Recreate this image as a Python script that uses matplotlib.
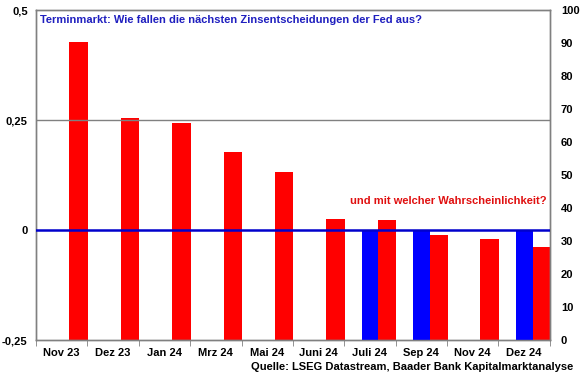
import numpy as np
import matplotlib
matplotlib.use("Agg")
import matplotlib.pyplot as plt

plt.rcParams["font.family"] = ["Liberation Sans", "DejaVu Sans"]
plt.rcParams["font.weight"] = "bold"

months = ["Nov 23", "Dez 23", "Jan 24", "Mrz 24", "Mai 24",
          "Juni 24", "Juli 24", "Sep 24", "Nov 24", "Dez 24"]
# expected rate move (left axis, percentage points)
rate_move = [0, 0, 0, 0, 0, 0, -0.25, -0.25, 0, -0.25]
# probability of that move (right axis, %)
probability = [90.3, 67.2, 65.8, 56.9, 50.8, 36.7, 36.5, 31.7, 30.5, 28.2]

x = np.arange(len(months))
w = 0.33

fig = plt.figure(figsize=(5.8, 3.75), dpi=100)
ax = fig.add_axes([0.062, 0.0933, 0.886, 0.880])
ax2 = ax.twinx()

ax.bar(x, rate_move, width=w, color="#0000ff", zorder=2)
ax2.bar(x + w, probability, width=w + 0.03, color="#ff0000", zorder=2)
ax.axhline(0, color="#0000cc", linewidth=1.8, zorder=3)
ax.axhline(0.25, color="#808080", linewidth=1.0, zorder=1)

ax.set_xlim(-0.5, len(months) - 0.5)
ax.set_ylim(-0.25, 0.5)
ax2.set_ylim(0, 100)
ax.set_yticks([-0.25, 0, 0.25, 0.5])
ax.set_yticklabels(["-0,25", "0", "0,25", "0,5"])
ax2.set_yticks(range(0, 101, 10))

ax.set_xticks(x)
ax.set_xticklabels(months)
ax.set_xticks(np.arange(len(months) + 1) - 0.5, minor=True)
ax.tick_params(axis="x", which="major", length=0, labelsize=8, pad=6)
ax.tick_params(axis="x", which="minor", length=4, color="#808080")
ax.tick_params(axis="y", length=0, labelsize=8, pad=6)
ax2.tick_params(axis="y", length=0, labelsize=8, pad=8)

for a in (ax, ax2):
    for s in a.spines.values():
        s.set_color("#808080")
        s.set_linewidth(1.0)
ax2.set_zorder(ax.get_zorder() - 1)
ax.patch.set_visible(False)
ax.set_zorder(2)

ax.text(0.008, 0.985, "Terminmarkt: Wie fallen die nächsten Zinsentscheidungen der Fed aus?",
        transform=ax.transAxes, ha="left", va="top", color="#1f1fbf",
        fontsize=8, fontweight="bold")
ax.text(0.994, 0.42, "und mit welcher Wahrscheinlichkeit?",
        transform=ax.transAxes, ha="right", va="center", color="#e01010",
        fontsize=8, fontweight="bold")
fig.text(0.988, 0.008, "Quelle: LSEG Datastream, Baader Bank Kapitalmarktanalyse",
         ha="right", va="bottom", fontsize=8, fontweight="bold")

fig.savefig("out.png", dpi=100)
